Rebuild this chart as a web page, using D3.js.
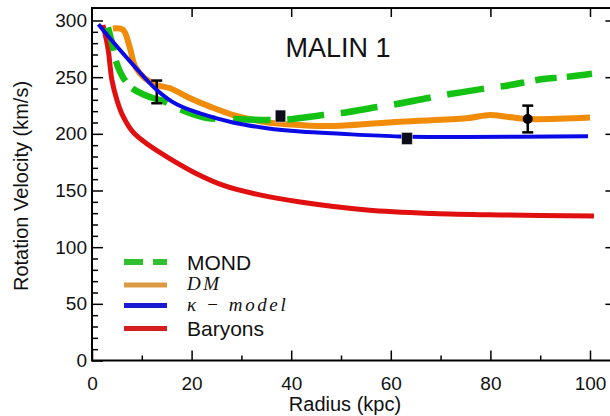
<!DOCTYPE html>
<html>
<head>
<meta charset="utf-8">
<script src="https://cdn.jsdelivr.net/npm/d3@7"></script>
<style>
  html, body { margin: 0; padding: 0; background: #fff; }
  svg { display: block; font-family: "Liberation Sans", Arial, sans-serif; }
</style>
</head>
<body>
<svg id="chart" width="610" height="416"></svg>
<script>
// ---- data ----
const title = "MALIN 1";
const xLabel = "Radius (kpc)";
const yLabel = "Rotation Velocity (km/s)";
const xTicks = [0, 20, 40, 60, 80, 100];
const xMinorTicks = [10, 30, 50, 70, 90];
const yTicks = [0, 50, 100, 150, 200, 250, 300];
const yMinorTicks = d3.range(10, 310, 10).filter(v => v % 50 !== 0);

const baryonsR = [2.2, 3.2, 4.0, 5.0, 6.2, 8.2, 11.6, 15.7, 20.7, 26.7, 33.7, 41.8, 55.2, 68.5, 81.9, 100.8];
const baryonsV = [296, 275.7, 247.5, 229.9, 215.8, 201.7, 189.4, 177.9, 165.5, 154, 146.1, 139.9, 132.8, 129.7, 128.4, 127.5];

const dmR = [4.2, 6.2, 7.6, 8.7, 10.6, 13.0, 15.7, 19.7, 23.7, 28.4, 35.1, 41.8, 48.5, 61.8, 75.2, 79.9, 83.3, 87.3, 100];
const dmV = [293, 292, 276, 259, 249, 243.1, 240.2, 231.4, 224, 216.6, 210.2, 207.8, 206.9, 210.7, 213.7, 216.6, 215.1, 213.1, 214.4];

const mondR = [3.2, 4.2, 4.6, 6.2, 8.0, 11.6, 14.3, 17.1, 23.1, 27.7, 35.1, 39.2, 46.4, 50.2, 57.4, 61.2, 68.5, 71.9, 79.5, 82.9, 90.6, 94.2, 100.4];
const mondV = [294, 276.6, 267, 250, 240.5, 232.5, 229, 222.8, 214, 213.1, 212.2, 212.6, 216.6, 218.4, 223.7, 226.3, 232.5, 235.1, 240.4, 242.2, 248.4, 249.7, 253];

const kappaR = [1.3, 3.6, 8.3, 13.0, 17.0, 21.7, 28.3, 35.1, 41.8, 50, 61.8, 75, 99.6];
const kappaV = [296.7, 284.3, 260.7, 238.7, 226, 218, 210, 205, 202, 200, 197.7, 197.3, 197.8];

// observed points: radius, velocity, error, marker
const obsR = [13.0, 37.8, 63.2, 87.5];
const obsV = [237, 215.7, 195.9, 213.1];
const obsErr = [10, 0, 0, 11.8];
const obsShape = ["bar", "square", "square", "circle"];

const legendNames = ["MOND", "DM", "κ − model", "Baryons"];

// ---- scales ----
const svg = d3.select("#chart");
const x = d3.scaleLinear().domain([0, 100]).range([92, 590]);
const y = d3.scaleLinear().domain([0, 300]).range([360.5, 20.5]);
const xMax = 104.5, yMax = 311;

const colGreen = "#14c214", colOrange = "#f08c0a", colBlue = "#0a0ae6", colRed = "#e01010";

// ---- curves ----
const line = d3.line().x(d => x(d[0])).y(d => y(d[1])).curve(d3.curveCatmullRom.alpha(0.5));
const zip = (a, b) => a.map((v, i) => [v, b[i]]);

svg.append("path").datum(zip(baryonsR, baryonsV)).attr("d", line)
  .attr("fill", "none").attr("stroke", colRed).attr("stroke-width", 5);
svg.append("path").datum(zip(dmR, dmV)).attr("d", line)
  .attr("fill", "none").attr("stroke", colOrange).attr("stroke-width", 6).attr("stroke-linejoin", "round");
svg.append("path").datum(zip(mondR, mondV)).attr("d", line)
  .attr("fill", "none").attr("stroke", colGreen).attr("stroke-width", 6.5)
  .attr("stroke-dasharray", "24,11,22,10,38,15,36,18,37,17,37,17,37,17,37,17,37,17");

// error bar drawn under kappa line
function drawBar(i) {
  const g = svg.append("g").attr("stroke", "#000").attr("stroke-width", 2.5);
  const cx = x(obsR[i]);
  g.append("line").attr("x1", cx).attr("x2", cx).attr("y1", y(obsV[i] - obsErr[i])).attr("y2", y(obsV[i] + obsErr[i]));
  [obsV[i] - obsErr[i], obsV[i] + obsErr[i]].forEach(v => {
    g.append("line").attr("x1", cx - 5.5).attr("x2", cx + 5.5).attr("y1", y(v)).attr("y2", y(v));
  });
}
obsShape.forEach((s, i) => { if (s === "bar") drawBar(i); });

svg.append("path").datum(zip(kappaR, kappaV)).attr("d", line)
  .attr("fill", "none").attr("stroke", colBlue).attr("stroke-width", 4);

obsShape.forEach((s, i) => {
  if (s === "square") {
    svg.append("rect").attr("x", x(obsR[i]) - 5).attr("y", y(obsV[i]) - 6)
      .attr("width", 10.5).attr("height", 12).attr("fill", "#0b0e18")
      .attr("stroke", "#d8d8d8").attr("stroke-width", 0.6);
  } else if (s === "circle") {
    drawBar(i);
    svg.append("circle").attr("cx", x(obsR[i])).attr("cy", y(obsV[i])).attr("r", 5).attr("fill", "#000");
  }
});

// ---- axes / frame ----
svg.append("rect").attr("x", x(0)).attr("y", y(yMax)).attr("width", x(xMax) - x(0)).attr("height", y(0) - y(yMax))
  .attr("fill", "none").attr("stroke", "#000").attr("stroke-width", 2);

const axStyle = g => {
  g.select(".domain").remove();
  g.selectAll(".tick line").attr("stroke", "#000").attr("stroke-width", 1.5);
  g.selectAll("text").attr("fill", "#111").attr("font-size", 19).attr("font-family", "Liberation Sans, Arial, sans-serif");
};

svg.append("g").attr("transform", `translate(${x(0)},0)`)
  .call(d3.axisLeft(y).tickValues(yTicks).tickSize(-11).tickPadding(5).tickFormat(d3.format("d"))).call(axStyle);
svg.append("g").attr("transform", `translate(${x(0)},0)`)
  .call(d3.axisLeft(y).tickValues(yMinorTicks).tickSize(-6).tickFormat("")).call(axStyle);
svg.append("g").attr("transform", `translate(0,${y(0)})`)
  .call(d3.axisBottom(x).tickValues(xTicks).tickSize(-10).tickPadding(16).tickFormat(d3.format("d"))).call(axStyle);
svg.append("g").attr("transform", `translate(0,${y(0)})`)
  .call(d3.axisBottom(x).tickValues(xMinorTicks).tickSize(-5).tickFormat("")).call(axStyle);
svg.append("g").attr("transform", `translate(0,${y(yMax)})`)
  .call(d3.axisTop(x).tickValues(xTicks.slice(1)).tickSize(-9).tickFormat("")).call(axStyle);
svg.append("g").attr("transform", `translate(${x(xMax)},0)`)
  .call(d3.axisRight(y).tickValues(yTicks.slice(1)).tickSize(-7).tickFormat("")).call(axStyle);

// ---- labels ----
svg.append("text").attr("x", x(50) + 4).attr("y", 411).attr("text-anchor", "middle")
  .attr("font-size", 20).attr("fill", "#111").text(xLabel);
svg.append("text").attr("transform", `translate(28,186) rotate(-90)`).attr("text-anchor", "middle")
  .attr("font-size", 20).attr("fill", "#111").text(yLabel);
svg.append("text").attr("x", 338).attr("y", 57).attr("text-anchor", "middle")
  .attr("font-size", 27).attr("fill", "#111").text(title);

// ---- legend ----
const legColors = ["#2fc02f", "#dc9a44", "#1a1ad0", "#d61e1e"];
const legY = [262, 285, 305.5, 328.5];
legendNames.forEach((name, i) => {
  const ln = svg.append("line").attr("x1", 124).attr("x2", 167).attr("y1", legY[i]).attr("y2", legY[i])
    .attr("stroke", legColors[i]).attr("stroke-width", i === 0 ? 6 : 5);
  if (i === 0) ln.attr("stroke-dasharray", "19,10");
  const t = svg.append("text").attr("x", 187).attr("y", legY[i] + 7.5).attr("fill", "#111").text(name);
  if (i === 1 || i === 2) {
    t.attr("font-family", "Liberation Serif, DejaVu Serif, serif").attr("font-style", "italic")
      .attr("font-size", 19).attr("letter-spacing", 2.6).attr("y", legY[i] + 5);
  } else {
    t.attr("font-size", 21);
  }
});
</script>
</body>
</html>
